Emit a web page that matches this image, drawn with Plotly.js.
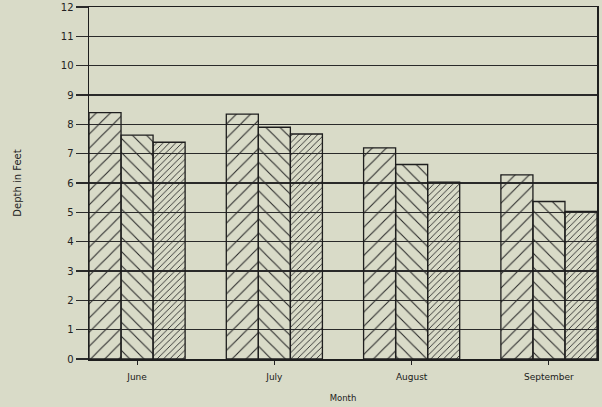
<!DOCTYPE html>
<html><head><meta charset="utf-8">
<script src="https://cdn.plot.ly/plotly-3.0.1.min.js"></script>
<style>html,body{margin:0;padding:0;background:#d9dbc8;}</style>
</head><body><div id="chart" style="width:602px;height:407px;"></div>
<script>
const months = ["June", "July", "August", "September"];
const seriesA = [8.4, 8.35, 7.2, 6.28];
const seriesB = [7.63, 7.9, 6.63, 5.37];
const seriesC = [7.39, 7.67, 6.03, 5.03];
const yTicks = [0,1,2,3,4,5,6,7,8,9,10,11,12];

function bar(vals, shape, size, sol){
  return {type:'bar', x:months, y:vals,
    marker:{color:'rgba(0,0,0,0)', line:{color:'#1e1e1e', width:1.3},
      pattern:{shape:shape, size:size, solidity:sol, fgcolor:'#2a2a2a', bgcolor:'rgba(0,0,0,0)'}},
    hoverinfo:'skip'};
}
const data = [bar(seriesA,'/',10,0.11), bar(seriesB,'\\',10,0.11), bar(seriesC,'/',4.5,0.2)];
const layout = {
  width:602, height:407, showlegend:false,
  paper_bgcolor:'#d9dbc8', plot_bgcolor:'#d9dbc8',
  margin:{l:89, r:5, t:7, b:48},
  barmode:'group', bargap:0.30, bargroupgap:0,
  font:{family:'DejaVu Sans', size:9, color:'#222'},
  xaxis:{type:'category', range:[-0.35,3.35], showgrid:false, ticks:'outside', ticklen:4, tickcolor:'#222',
    ticklabelstandoff:5,
    showline:true, linecolor:'#1e1e1e', linewidth:1.5, mirror:true,
    tickfont:{size:9, family:'DejaVu Sans', color:'#1a1a1a'},
    title:{text:'Month', font:{size:8.5, family:'DejaVu Sans', color:'#222'}, standoff:14}},
  yaxis:{range:[0,12], tickvals:yTicks, ticktext:yTicks.map(String), showgrid:true, gridcolor:'#2a2a2a', gridwidth:1.3,
    ticks:'outside', ticklen:12, tickcolor:'#2a2a2a', tickwidth:1.3, zeroline:false,
    showline:true, linecolor:'#1e1e1e', linewidth:1.5, mirror:true,
    tickfont:{size:10, family:'DejaVu Sans', color:'#222'},
    title:{text:'Depth in Feet', font:{size:10, family:'DejaVu Sans', color:'#222'}, standoff:37}}
};
Plotly.newPlot('chart', data, layout, {staticPlot:true, displayModeBar:false});
</script></body></html>
